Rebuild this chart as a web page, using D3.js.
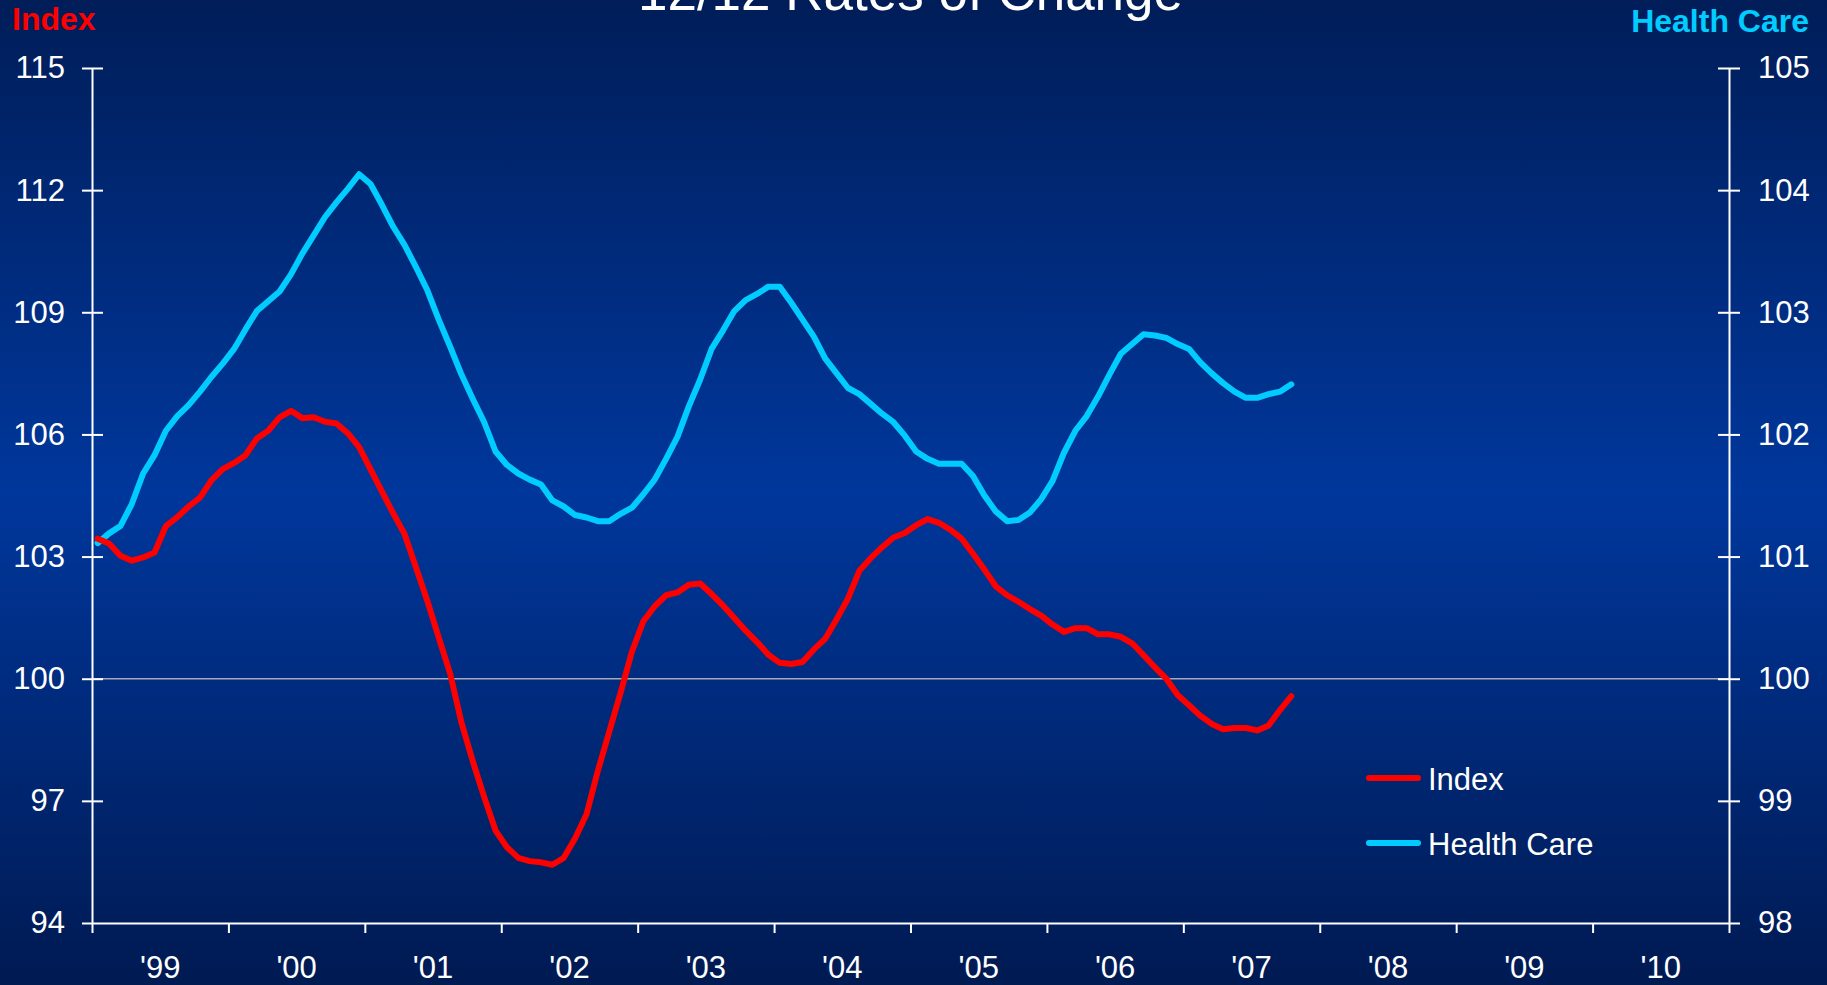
<!DOCTYPE html>
<html>
<head>
<meta charset="utf-8">
<script src="https://cdn.jsdelivr.net/npm/d3@7"></script>
<style>
  html, body { margin: 0; padding: 0; background: #00205c; overflow: hidden; }
  svg { display: block; }
  text { font-family: "Liberation Sans", Arial, Helvetica, sans-serif; }
</style>
</head>
<body>
<svg id="chart" width="1827" height="985"></svg>
<script>
// ---------------- data ----------------
const title = "12/12 Rates of Change";
const yearLabels = ["'99","'00","'01","'02","'03","'04","'05","'06","'07","'08","'09","'10"];
const leftTicks = [94, 97, 100, 103, 106, 109, 112, 115];
const rightTicks = [98, 99, 100, 101, 102, 103, 104, 105];
const seriesNames = ["Index", "Health Care"];

// monthly values, Jan 1999 .. Oct 2007 (left axis)
const indexValues = [
  103.44, 103.32, 103.02, 102.90, 102.98, 103.10, 103.75, 103.97, 104.23, 104.45, 104.87, 105.15,
  105.30, 105.49, 105.90, 106.09, 106.42, 106.58, 106.40, 106.42, 106.31, 106.27, 106.03, 105.69,
  105.14, 104.60, 104.06, 103.55, 102.73, 101.91, 101.01, 100.13, 98.92, 97.97, 97.09, 96.27,
  95.86, 95.60, 95.52, 95.49, 95.43, 95.60, 96.08, 96.67, 97.74, 98.70, 99.66, 100.67,
  101.41, 101.78, 102.05, 102.12, 102.31, 102.34, 102.08, 101.80, 101.49, 101.18, 100.90, 100.59,
  100.39, 100.36, 100.41, 100.72, 100.98, 101.46, 101.97, 102.65, 102.96, 103.23, 103.47, 103.58,
  103.77, 103.92, 103.83, 103.66, 103.44, 103.07, 102.68, 102.27, 102.05, 101.89, 101.71, 101.55,
  101.33, 101.15, 101.24, 101.24, 101.09, 101.09, 101.03, 100.87, 100.58, 100.28, 100.00, 99.60,
  99.35, 99.09, 98.89, 98.76, 98.79, 98.79, 98.73, 98.85, 99.23, 99.57
];
// monthly values, Jan 1999 .. Oct 2007 (right axis)
const healthValues = [
  101.11, 101.19, 101.25, 101.43, 101.68, 101.83, 102.03, 102.15, 102.24, 102.35, 102.47, 102.58,
  102.70, 102.86, 103.01, 103.09, 103.17, 103.31, 103.48, 103.63, 103.78, 103.90, 104.01, 104.13,
  104.05, 103.88, 103.70, 103.55, 103.37, 103.18, 102.94, 102.72, 102.49, 102.29, 102.10, 101.86,
  101.75, 101.68, 101.63, 101.59, 101.46, 101.41, 101.34, 101.32, 101.29, 101.29, 101.35, 101.40,
  101.51, 101.63, 101.80, 101.98, 102.23, 102.45, 102.70, 102.85, 103.01, 103.10, 103.15, 103.21,
  103.21, 103.08, 102.94, 102.80, 102.62, 102.50, 102.38, 102.33, 102.25, 102.17, 102.10, 101.99,
  101.86, 101.80, 101.76, 101.76, 101.76, 101.66, 101.50, 101.37, 101.29, 101.30, 101.36, 101.47,
  101.62, 101.85, 102.03, 102.15, 102.31, 102.49, 102.66, 102.74, 102.82, 102.81, 102.79, 102.74,
  102.70, 102.59, 102.50, 102.42, 102.35, 102.30, 102.30, 102.33, 102.35, 102.41
];

// ---------------- layout ----------------
const W = 1827, H = 985;
const L = 92, R = 1729, T = 68, B = 923;
const colors = { index: "#ff0000", health: "#00ccff" };
const FONT = '"Liberation Sans", Arial, sans-serif';

const svg = d3.select("#chart");
const defs = svg.append("defs");
const grad = defs.append("linearGradient").attr("id", "bg").attr("x1", 0).attr("y1", 0).attr("x2", 0).attr("y2", 1);
grad.append("stop").attr("offset", "0").attr("stop-color", "#001d58");
grad.append("stop").attr("offset", "0.5").attr("stop-color", "#00379c");
grad.append("stop").attr("offset", "1").attr("stop-color", "#001a52");
svg.append("rect").attr("width", W).attr("height", H).attr("fill", "url(#bg)");

// scales
const nMonths = yearLabels.length * 12;
const x = d3.scaleLinear().domain([0, nMonths]).range([L, R]);
const xBand = d3.scaleBand().domain(yearLabels).range([L, R]).padding(0);
const yL = d3.scaleLinear().domain([94, 115]).range([B, T]);
const yR = d3.scaleLinear().domain([98, 105]).range([B, T]);

// reference line at 100
svg.append("line")
  .attr("x1", L).attr("x2", R)
  .attr("y1", yL(100)).attr("y2", yL(100))
  .attr("stroke", "#a8a8b8").attr("stroke-width", 1.6);

// bottom axis ticks
const boundaries = d3.range(0, nMonths + 1, 12);
const gx = svg.append("g").attr("transform", `translate(0,${B})`)
  .call(d3.axisBottom(x).tickValues(boundaries).tickSize(10).tickSizeOuter(0).tickFormat(""));
gx.select(".domain").attr("stroke", "#fff").attr("stroke-width", 2);
gx.selectAll(".tick line").attr("stroke", "#fff").attr("stroke-width", 2);

// bottom axis labels
const gxl = svg.append("g").attr("transform", `translate(0,${B})`)
  .call(d3.axisBottom(xBand).tickSize(0).tickPadding(33));
gxl.select(".domain").remove();
gxl.selectAll("text").attr("fill", "#fff").attr("font-size", 31).attr("dy", "0.71em")
  .style("font-family", FONT);

// left axis
const gl = svg.append("g").attr("transform", `translate(${L},0)`)
  .call(d3.axisLeft(yL).tickValues(leftTicks).tickFormat(d3.format("d"))
    .tickSize(10).tickSizeOuter(0).tickPadding(17));
gl.select(".domain").attr("stroke", "#fff").attr("stroke-width", 2);
gl.selectAll(".tick line").attr("stroke", "#fff").attr("stroke-width", 2).attr("x1", 11).attr("x2", -10);
gl.selectAll(".tick").filter(d => d === 94).select("line").attr("x1", 0);
gl.selectAll("text").attr("fill", "#fff").attr("font-size", 31).style("font-family", FONT);

// right axis
const gr = svg.append("g").attr("transform", `translate(${R},0)`)
  .call(d3.axisRight(yR).tickValues(rightTicks).tickFormat(d3.format("d"))
    .tickSize(11).tickSizeOuter(0).tickPadding(18));
gr.select(".domain").attr("stroke", "#fff").attr("stroke-width", 2);
gr.selectAll(".tick line").attr("stroke", "#fff").attr("stroke-width", 2).attr("x1", -11).attr("x2", 11);
gr.selectAll(".tick").filter(d => d === 98).select("line").attr("x1", 0);
gr.selectAll("text").attr("fill", "#fff").attr("font-size", 31).style("font-family", FONT);

// lines
const lineL = d3.line().x((d, i) => x(i + 0.5)).y(d => yL(d)).curve(d3.curveLinear);
const lineR = d3.line().x((d, i) => x(i + 0.5)).y(d => yR(d)).curve(d3.curveLinear);

svg.append("path").datum(healthValues)
  .attr("d", lineR).attr("fill", "none").attr("stroke", colors.health)
  .attr("stroke-width", 6).attr("stroke-linejoin", "round").attr("stroke-linecap", "round");
svg.append("path").datum(indexValues)
  .attr("d", lineL).attr("fill", "none").attr("stroke", colors.index)
  .attr("stroke-width", 6).attr("stroke-linejoin", "round").attr("stroke-linecap", "round");

// title
svg.append("text").attr("x", (L + R) / 2).attr("y", 10)
  .attr("text-anchor", "middle").attr("fill", "#fff").attr("font-size", 53)
  .text(title);

// axis titles
svg.append("text").attr("x", 12).attr("y", 30)
  .attr("fill", "#ff0000").attr("font-size", 32).attr("font-weight", "bold").text(seriesNames[0]);
svg.append("text").attr("x", 1809).attr("y", 32).attr("text-anchor", "end")
  .attr("fill", "#00ccff").attr("font-size", 32).attr("font-weight", "bold").text(seriesNames[1]);

// legend
const legend = svg.append("g");
const legendItems = [
  { name: seriesNames[0], color: colors.index, y: 778 },
  { name: seriesNames[1], color: colors.health, y: 843 }
];
legendItems.forEach(it => {
  legend.append("line").attr("x1", 1369).attr("x2", 1418).attr("y1", it.y).attr("y2", it.y)
    .attr("stroke", it.color).attr("stroke-width", 6).attr("stroke-linecap", "round");
  legend.append("text").attr("x", 1428).attr("y", it.y + 12)
    .attr("fill", "#fff").attr("font-size", 31).text(it.name);
});
</script>
</body>
</html>
